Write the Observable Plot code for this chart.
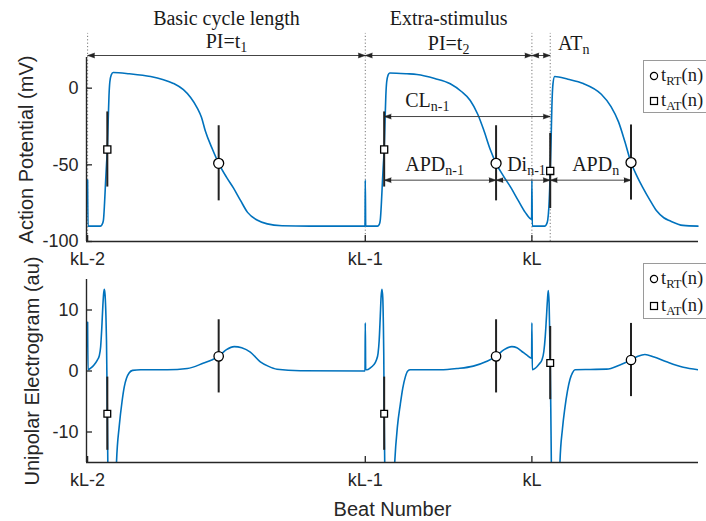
<!DOCTYPE html>
<html>
<head>
<meta charset="utf-8">
<script src="https://cdn.jsdelivr.net/npm/d3@7"></script>
<script src="https://cdn.jsdelivr.net/npm/@observablehq/plot@0.6"></script>
<style>
  html, body { margin: 0; padding: 0; background: #fff; overflow: hidden; }
  #fig { position: relative; width: 706px; height: 521px; overflow: hidden; }
  #fig svg.panel { position: absolute; left: 0; }
  .legend { position: absolute; left: 643px; width: 100px; border: 1px solid #9a9a9a; background: #fff;
            box-sizing: border-box; font-family: "Liberation Serif", serif; font-size: 18.5px; color: #1a1a1a; }
  .legend .row { display: flex; align-items: center; white-space: nowrap; }
  .legend svg { margin-left: 5px; margin-right: 2px; flex: none; }
  .legend sub { font-size: 0.68em; vertical-align: -0.28em; line-height: 0; }
</style>
</head>
<body>
<div id="fig"></div>
<script>
// ---- time axis (ms) and beat ticks ----
const tDomain = [-4, 2200];
const beatTimes = [0, 1000, 1600];
const beatLabels = ["kL-2", "kL-1", "kL"];

// ---- action potential trace (mV) ----
const apT = [0, 1.5, 46, 52, 57, 61, 65, 68, 71, 74, 77, 80, 85, 92, 150, 227, 270, 309, 345, 371, 395, 410, 424, 450, 472, 500, 525, 550, 576, 610, 647, 700, 800, 999,
  1000, 1001.5, 1044, 1050, 1054, 1058, 1062, 1065, 1068, 1071, 1074, 1077, 1082, 1088, 1150, 1186, 1250, 1306, 1345, 1378, 1405, 1426, 1450, 1471, 1500, 1525, 1550, 1576, 1599,
  1600, 1601.5, 1646, 1652, 1657, 1661, 1664, 1666, 1669, 1672, 1676, 1682, 1730, 1785, 1850, 1885, 1912, 1935, 1957, 1980, 2000, 2025, 2049, 2075, 2097, 2144, 2198];
const apV = [-60, -90, -90, -89, -86, -75, -60, -50, -40, -22, -5, 4, 8.5, 10.2, 9.4, 7.6, 5.7, 3.1, -1, -6.1, -13, -19, -28, -40, -49, -58, -65, -73, -81, -86, -88.5, -89.7, -90, -90,
  -60, -90, -90, -89, -86, -75, -60, -50, -40, -22, -5, 4, 8.5, 9.9, 9.4, 8.9, 6.3, 2.9, -2, -8, -17, -27, -40, -49, -58, -65, -73, -81, -85.5,
  -60, -90, -90, -89, -86, -78, -66, -54, -35, -12, 3, 7.6, 5.8, 3, -4, -12, -22, -35, -48.5, -58, -65, -73, -80, -84.5, -86.5, -89.5, -90];
const apDomain = [-100, 20];
const apTicks = [-100, -50, 0];

// ---- unipolar electrogram trace (au) ----
const egmT = [0, 1.5, 12, 23, 35, 42, 47, 51, 55, 58, 60.5, 63, 66, 68, 71, 73, 76, 82, 90, 97, 104, 114, 124, 132, 140, 150, 162, 191, 287, 359, 418, 447, 472, 500, 528, 555, 586, 622, 650, 682, 766, 999,
  1000, 1001.5, 1006, 1018, 1030, 1040, 1046, 1050, 1054, 1057, 1060, 1063, 1065, 1066.5, 1068, 1070, 1073, 1079, 1088, 1097, 1106, 1116, 1126, 1135, 1144, 1153, 1162, 1270, 1330, 1389, 1438, 1471, 1500, 1528, 1546, 1564, 1582, 1599,
  1600, 1601.5, 1610, 1618, 1627, 1636, 1643, 1648, 1652, 1656, 1659, 1662, 1664, 1666, 1668, 1670, 1673, 1679, 1688, 1695, 1701, 1710, 1719, 1728, 1737, 1746, 1755, 1810, 1869, 1917, 1957, 1982, 2007, 2040, 2085, 2145, 2199];
const egmV = [8, 0.2, 0.5, 1.0, 1.8, 2.5, 4, 7, 10.8, 12.8, 13.4, 12.4, 9, 5, -7, -16, -28, -40, -38, -26, -15, -9, -5, -2.6, -1.2, -0.3, 0.1, 0.2, 0.2, 0.4, 1.3, 1.8, 2.4, 3.5, 4.0, 3.8, 3.1, 1.5, 0.8, 0.3, 0.05, 0,
  7.9, 0.2, 0.2, 0.5, 1.0, 1.8, 2.9, 5, 9, 12.2, 13.4, 12, 8, 3, -7, -15, -28, -40, -38, -26, -15, -9, -5.5, -2.8, -1, 0, 0.2, 0.2, 0.4, 0.8, 1.6, 2.4, 3.5, 4.0, 3.8, 3.2, 2.6, 2.1,
  7.9, 0.2, 0.4, 0.7, 1.2, 1.8, 3.2, 5.6, 8.5, 11.6, 13.2, 11.1, 6.5, 1.3, -6, -15, -28, -40, -38, -26, -15, -9.5, -6, -3.3, -1.4, -0.3, 0.2, 0.25, 0.3, 1.0, 1.8, 2.4, 2.7, 2.3, 1.5, 0.6, 0.2];
const egmDomain = [-15, 15];
const egmTicks = [-10, 0, 10];

// ---- activation (AT) and repolarisation (RT) times with their readouts ----
const atT = [71, 1068, 1666];
const atAP = [-40, -40, -54];
const atEGM = [-7, -7, 1.3];
const rtT = [472, 1471, 1957];
const rtAP = [-49, -49, -48.5];
const rtEGM = [2.4, 2.4, 1.8];
const apSpread = 24.5;   // half-length of the detection bars (mV)
const egmSpread = 6;     // half-length of the detection bars (au)

// ---- interval annotations (time from, time to, level in mV) ----
const markerTimes = [0, 1000, 1600, 1666];
const arrowFrom = [0, 1000, 1600, 1068, 1068, 1471, 1666];
const arrowTo = [1000, 1600, 1666, 1666, 1471, 1666, 1957];
const arrowLevel = [21.3, 21.3, 21.3, -18.5, -60, -60, -60];
const guideTop = 35.7;

const centredText = ["Basic cycle length", "PI=t_1", "Extra-stimulus", "PI=t_2"];
const centredT = [500, 500, 1300, 1300];
const centredV = [41.5, 26.5, 41.5, 25.2];
const leftText = ["AT_n", "CL_n-1", "APD_n-1", "Di_n-1", "APD_n"];
const leftT = [1694, 1144, 1144, 1511, 1745];
const leftV = [25.2, -12.4, -53.7, -53.7, -53.7];

// ---------------------------------------------------------------
const blue = "#0072BD", ink = "#262626", dark = "#222";
const serif = "'Liberation Serif', 'Times New Roman', serif";
const sans = "'Liberation Sans', Arial, sans-serif";

const ap = apT.map((t, i) => ({t, v: apV[i]}));
const egm = egmT.map((t, i) => ({t, v: egmV[i]}));
const at = atT.map((t, i) => ({t, ap: atAP[i], egm: atEGM[i]}));
const rt = rtT.map((t, i) => ({t, ap: rtAP[i], egm: rtEGM[i]}));
const arrows = arrowFrom.map((a, i) => ({a, b: arrowTo[i], y: arrowLevel[i]}));

function frameAxes(yDomain, yTicks) {
  return [
    Plot.axisX(beatTimes, {tickFormat: d => beatLabels[beatTimes.indexOf(d)], tickSize: -6, tickPadding: 17,
      label: null, stroke: ink, strokeWidth: 1.3, fill: ink, fontSize: 18}),
    Plot.axisY(yTicks, {tickFormat: d => String(d), tickSize: -6, tickPadding: 14,
      label: null, stroke: ink, strokeWidth: 1.3, fill: ink, fontSize: 18}),
    Plot.ruleX([tDomain[0]], {stroke: ink, strokeWidth: 1.4}),
    Plot.ruleY([yDomain[0]], {stroke: ink, strokeWidth: 1.4})
  ];
}

// turn "base_sub" labels into a base run followed by a subscript run
function subscripts(svg) {
  d3.select(svg).selectAll("text").each(function () {
    if (this.querySelector("tspan")) return;
    const s = this.textContent, i = s.indexOf("_");
    if (i < 0) return;
    const el = d3.select(this).text(null);
    el.append("tspan").text(s.slice(0, i));
    el.append("tspan").attr("font-size", "0.7em").attr("dy", "0.3em").text(s.slice(i + 1));
  });
}

const topPanel = Plot.plot({
  width: 706, height: 260,
  marginTop: 57, marginBottom: 19, marginLeft: 86, marginRight: 8,
  style: {fontFamily: sans, fontSize: "18px", color: ink, background: "transparent", overflow: "visible"},
  x: {domain: tDomain},
  y: {domain: apDomain},
  marks: [
    Plot.ruleX(markerTimes, {y1: apDomain[0], y2: guideTop, stroke: "#777", strokeWidth: 1, strokeDasharray: "1.2,2.2"}),
    Plot.line(ap, {x: "t", y: "v", stroke: blue, strokeWidth: 1.6, curve: "monotone-x"}),
    Plot.link(arrows, {x1: "a", x2: "b", y1: "y", y2: "y", stroke: "#444", strokeWidth: 1}),
    Plot.vector(arrows, {x: "b", y: "y", rotate: 90, anchor: "end", shape: "spike", length: 7, r: 2.4, fill: dark, stroke: dark, strokeWidth: 0.5}),
    Plot.vector(arrows, {x: "a", y: "y", rotate: -90, anchor: "end", shape: "spike", length: 7, r: 2.4, fill: dark, stroke: dark, strokeWidth: 0.5}),
    Plot.ruleX(at, {x: "t", y1: d => d.ap - apSpread, y2: d => d.ap + apSpread, stroke: dark, strokeWidth: 2}),
    Plot.ruleX(rt, {x: "t", y1: d => d.ap - apSpread, y2: d => d.ap + apSpread, stroke: dark, strokeWidth: 2}),
    Plot.dot(at, {x: "t", y: "ap", symbol: "square", r: 4, fill: "white", stroke: "black", strokeWidth: 1.3}),
    Plot.dot(rt, {x: "t", y: "ap", symbol: "circle", r: 5, fill: "white", stroke: "black", strokeWidth: 1.3}),
    Plot.text(centredText, {x: (d, i) => centredT[i], y: (d, i) => centredV[i], text: d => d, lineAnchor: "bottom",
      fontFamily: serif, fontSize: 20, fill: "#1a1a1a"}),
    Plot.text(leftText, {x: (d, i) => leftT[i], y: (d, i) => leftV[i], text: d => d, lineAnchor: "bottom", textAnchor: "start",
      fontFamily: serif, fontSize: 20, fill: "#1a1a1a"}),
    Plot.text(["Action Potential (mV)"], {frameAnchor: "left", textAnchor: "middle", lineAnchor: "middle", rotate: -90, dx: -60, fontSize: 20, fill: ink}),
    ...frameAxes(apDomain, apTicks)
  ]
});

const bottomPanel = Plot.plot({
  width: 706, height: 261,
  marginTop: 19, marginBottom: 59, marginLeft: 86, marginRight: 8,
  style: {fontFamily: sans, fontSize: "18px", color: ink, background: "transparent", overflow: "visible"},
  x: {domain: tDomain},
  y: {domain: egmDomain},
  marks: [
    Plot.line(egm, {x: "t", y: "v", stroke: blue, strokeWidth: 1.6, curve: "monotone-x", clip: true}),
    Plot.ruleX(at, {x: "t", y1: d => d.egm - egmSpread, y2: d => d.egm + egmSpread, stroke: dark, strokeWidth: 2}),
    Plot.ruleX(rt, {x: "t", y1: d => d.egm - egmSpread, y2: d => d.egm + egmSpread, stroke: dark, strokeWidth: 2}),
    Plot.dot(at, {x: "t", y: "egm", symbol: "square", r: 3.8, fill: "white", stroke: "black", strokeWidth: 1.3}),
    Plot.dot(rt, {x: "t", y: "egm", symbol: "circle", r: 4.7, fill: "white", stroke: "black", strokeWidth: 1.3}),
    Plot.text(["Unipolar Electrogram (au)"], {frameAnchor: "left", textAnchor: "middle", lineAnchor: "middle", rotate: -90, dx: -54, fontSize: 20, fill: ink}),
    Plot.text(["Beat Number"], {frameAnchor: "bottom", textAnchor: "middle", lineAnchor: "bottom", dy: 53, fontSize: 20, fill: ink}),
    ...frameAxes(egmDomain, egmTicks)
  ]
});

const fig = document.getElementById("fig");
for (const [svg, top] of [[topPanel, 0], [bottomPanel, 260]]) {
  svg.classList.add("panel");
  svg.style.top = top + "px";
  subscripts(svg);
  fig.appendChild(svg);
}

// legends for the two detection markers
function legend(top, height, rowHeight, pad) {
  const box = document.createElement("div");
  box.className = "legend";
  box.style.top = top + "px";
  box.style.height = height + "px";
  box.style.paddingTop = pad + "px";
  const rows = [["circle", "RT"], ["square", "AT"]];
  for (const [shape, key] of rows) {
    const row = document.createElement("div");
    row.className = "row";
    row.style.height = rowHeight + "px";
    const sym = shape === "circle"
      ? '<circle cx="5" cy="5" r="3.6" fill="white" stroke="black" stroke-width="1.2"/>'
      : '<rect x="1.5" y="1.5" width="7" height="7" fill="white" stroke="black" stroke-width="1.2"/>';
    row.innerHTML = `<svg width="10" height="10">${sym}</svg><span>t<sub>${key}</sub>(n)</span>`;
    box.appendChild(row);
  }
  fig.appendChild(box);
}
legend(60, 53, 25, 2);
legend(263, 56, 27, 1);
</script>
</body>
</html>
